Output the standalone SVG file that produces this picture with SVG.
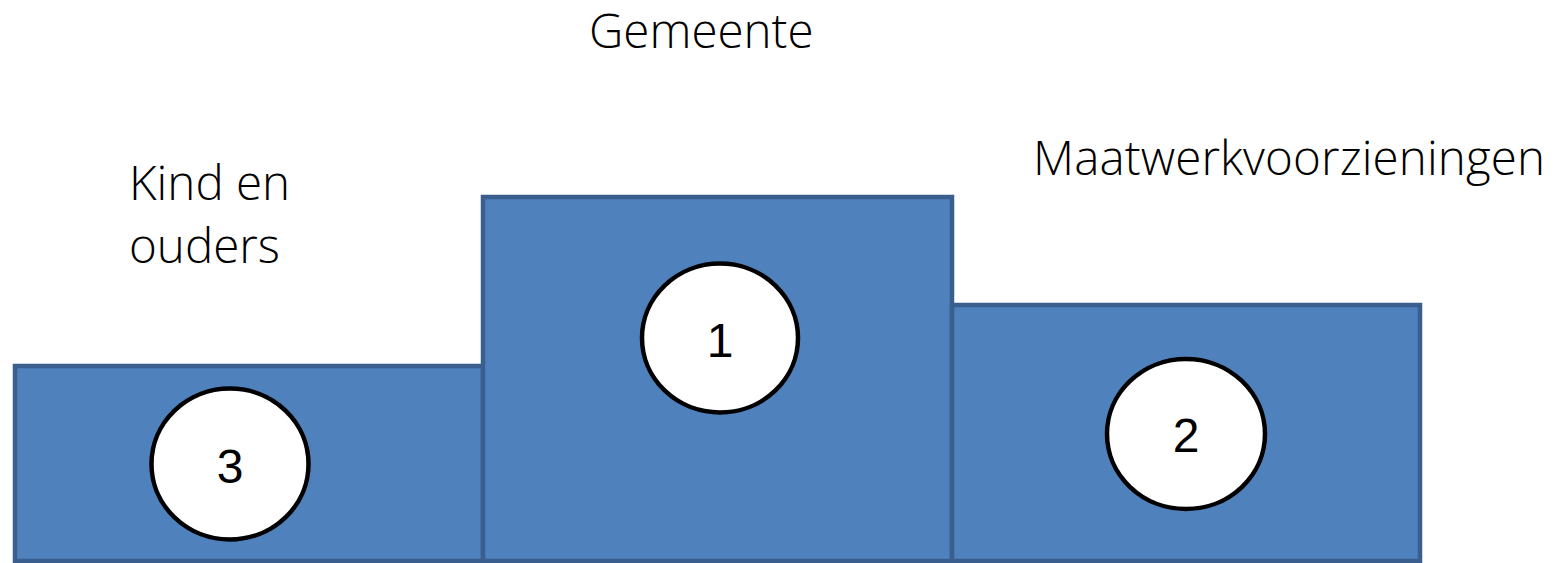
<svg xmlns="http://www.w3.org/2000/svg" width="1558" height="563" viewBox="0 0 1558 563">
<style>
.box{fill:#4f81bd;stroke:#3a5e8d;stroke-width:4.5}
.circ{fill:#ffffff;stroke:#000000;stroke-width:4.5}
.num{font-family:"Liberation Sans",Arial,sans-serif;font-size:48px;fill:#000;text-anchor:middle}
.lbl{font-family:"Open Sans",sans-serif;font-weight:300;font-size:47.5px;fill:#000}
</style>
<rect width="1558" height="563" fill="#ffffff"/>
<g id="node-3">
<rect class="box" x="15" y="366" width="468" height="195"/>
<ellipse class="circ" cx="230" cy="464" rx="78.5" ry="75.5"/>
<text class="num" x="230" y="483">3</text>
</g>
<g id="node-1">
<rect class="box" x="483" y="197" width="469" height="364"/>
<ellipse class="circ" cx="720" cy="338" rx="78" ry="74.5"/>
<text class="num" x="720" y="357">1</text>
</g>
<g id="node-2">
<rect class="box" x="952" y="305" width="468" height="256"/>
<ellipse class="circ" cx="1186" cy="434" rx="79" ry="75"/>
<text class="num" x="1186" y="452">2</text>
</g>
<g id="connectors"></g>
<g id="labels">
<text class="lbl" x="589" y="48">Gemeente</text>
<text class="lbl" x="1033" y="175" textLength="512">Maatwerkvoorzieningen</text>
<text class="lbl" x="129" y="200">Kind en</text>
<text class="lbl" x="129" y="263">ouders</text>
</g>
</svg>
